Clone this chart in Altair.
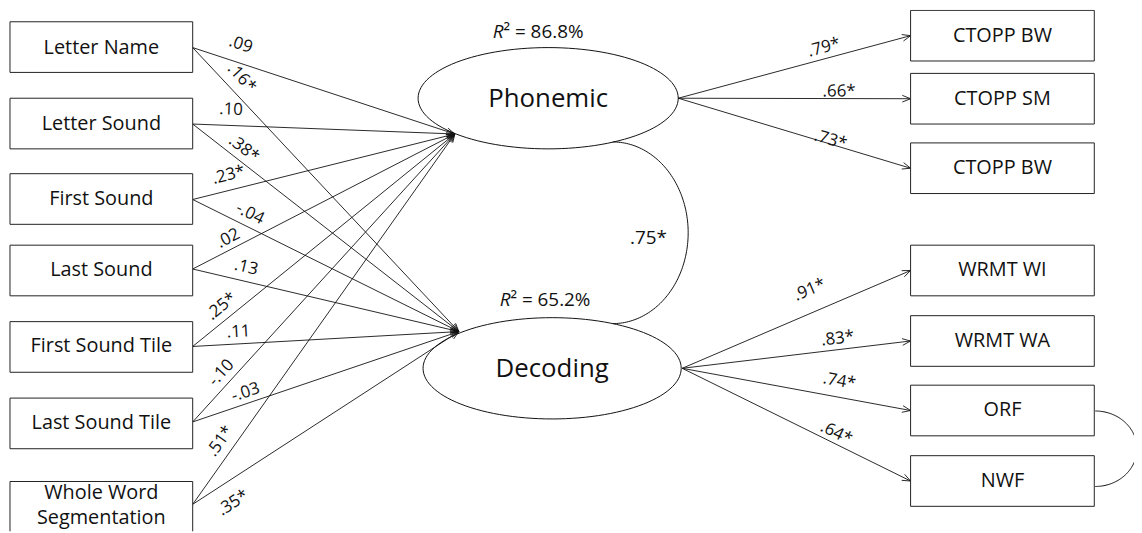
import math
import altair as alt
import pandas as pd

# ------------------------------------------------------------------ data
predictors = ["Letter Name", "Letter Sound", "First Sound", "Last Sound",
              "First Sound Tile", "Last Sound Tile", "Whole Word\nSegmentation"]
beta_phonemic = [0.09, 0.10, 0.23, 0.02, 0.25, -0.10, 0.51]
sig_phonemic = [False, False, True, False, True, False, True]
beta_decoding = [0.16, 0.38, -0.04, 0.13, 0.11, -0.03, 0.35]
sig_decoding = [True, True, False, False, False, False, True]

latents = ["Phonemic", "Decoding"]
r_squared = [86.8, 65.2]
latent_corr = 0.75
latent_corr_sig = True

phonemic_indicators = ["CTOPP BW", "CTOPP SM", "CTOPP BW"]
phonemic_loadings = [0.79, 0.66, 0.73]
decoding_indicators = ["WRMT WI", "WRMT WA", "ORF", "NWF"]
decoding_loadings = [0.91, 0.83, 0.74, 0.64]
loadings_sig = True

# ------------------------------------------------------------------ layout
FONT = "Open Sans"
LEFT_X0, LEFT_X1 = 10, 194
LEFT_TOP = [20, 97, 173, 245, 322, 399, 483]
LEFT_H = [51, 51, 51, 51, 51, 51, 70]
LEFT_ANCHOR = [46, 123, 199, 269, 347, 423, 506]
LEFT_TEXT_Y = [46, 123, 199, 270, 347, 424, 495]
RIGHT_X0, RIGHT_X1 = 917, 1102
RIGHT_TOP = [8.5, 72, 142, 245, 316, 386, 457]
BOX_H = 51
ELL = {"Phonemic": dict(cx=552, cy=97, rx=131, ry=51, tip=(458, 133), out=(683, 97), r2=(507, 30)),
       "Decoding": dict(cx=556, cy=369, rx=130, ry=51, tip=(462, 332), out=(687, 369), r2=(514, 300))}
PHON_LAB = dict(along=[45, 38, 41, 46, 48, 56, 68], off=[18, 16, 15, 11, 13, 12, 14])
DEC_LAB = dict(along=[56, 56, 58, 52, 47, 60, 35], off=[15, 12, 13, 14, 12, 11, -21])
PIND_LAB = dict(along=[155, 162, 159], off=[11, 7, 4])
DIND_LAB = dict(along=[149, 159, 158, 168], off=[22, 11, 16, 10])
HEAD_LEN, HEAD_ANG = 9, math.radians(22)


def fmt(v, sig):
    s = f"{abs(v):.2f}"[1:]
    if v < 0:
        s = "-" + s
    return s + ("*" if sig else "")


segs, labels = [], []


def arrow(p0, p1, text, along, off):
    dx, dy = p1[0] - p0[0], p1[1] - p0[1]
    L = math.hypot(dx, dy)
    ux, uy = dx / L, dy / L
    segs.append(dict(x=p0[0], y=p0[1], x2=p1[0], y2=p1[1]))
    for s in (1, -1):
        c, sn = math.cos(s * HEAD_ANG), math.sin(s * HEAD_ANG)
        rx, ry = ux * c - uy * sn, ux * sn + uy * c
        segs.append(dict(x=p1[0], y=p1[1], x2=p1[0] - HEAD_LEN * rx, y2=p1[1] - HEAD_LEN * ry))
    nx, ny = uy, -ux
    ang = math.degrees(math.atan2(dy, dx)) % 360
    labels.append(dict(x=p0[0] + along * ux + off * nx, y=p0[1] + along * uy + off * ny,
                       label=text, angle=ang))


for i in range(len(predictors)):
    src = (LEFT_X1, LEFT_ANCHOR[i])
    arrow(src, ELL["Phonemic"]["tip"], fmt(beta_phonemic[i], sig_phonemic[i]),
          PHON_LAB["along"][i], PHON_LAB["off"][i])
    arrow(src, ELL["Decoding"]["tip"], fmt(beta_decoding[i], sig_decoding[i]),
          DEC_LAB["along"][i], DEC_LAB["off"][i])

for j, v in enumerate(phonemic_loadings):
    arrow(ELL["Phonemic"]["out"], (RIGHT_X0, RIGHT_TOP[j] + BOX_H / 2), fmt(v, loadings_sig),
          PIND_LAB["along"][j], PIND_LAB["off"][j])
for j, v in enumerate(decoding_loadings):
    k = j + len(phonemic_loadings)
    arrow(ELL["Decoding"]["out"], (RIGHT_X0, RIGHT_TOP[k] + BOX_H / 2), fmt(v, loadings_sig),
          DIND_LAB["along"][j], DIND_LAB["off"][j])

# curves: latent ellipses and correlation arcs
curve_rows = []


def curve(name, cx, cy, rx, ry, t0, t1, n=120):
    for k in range(n + 1):
        t = math.radians(t0 + (t1 - t0) * k / n)
        curve_rows.append(dict(id=name, idx=k, x=cx + rx * math.cos(t), y=cy + ry * math.sin(t)))


for nm in latents:
    e = ELL[nm]
    curve(nm, e["cx"], e["cy"], e["rx"], e["ry"], 0, 360)
curve("corr_latent", 617, 232.5, 76, 91.5, -90, 90)
curve("corr_orf_nwf", 1103, 450, 42, 38, -90, 90)

boxes = []
for i, p in enumerate(predictors):
    boxes.append(dict(x=LEFT_X0, x2=LEFT_X1, y=LEFT_TOP[i], y2=LEFT_TOP[i] + LEFT_H[i],
                      tx=(LEFT_X0 + LEFT_X1) / 2, ty=LEFT_TEXT_Y[i], label=p))
for j, p in enumerate(phonemic_indicators + decoding_indicators):
    boxes.append(dict(x=RIGHT_X0, x2=RIGHT_X1, y=RIGHT_TOP[j], y2=RIGHT_TOP[j] + BOX_H,
                      tx=(RIGHT_X0 + RIGHT_X1) / 2, ty=RIGHT_TOP[j] + BOX_H / 2, label=p))

lat_df = pd.DataFrame([dict(x=ELL[n]["cx"], y=ELL[n]["cy"] + 1, label=n) for n in latents])
r2_R = pd.DataFrame([dict(x=ELL[n]["r2"][0], y=ELL[n]["r2"][1], label="R") for n in latents])
r2_rest = pd.DataFrame([dict(x=ELL[n]["r2"][0], y=ELL[n]["r2"][1], label=f"\u00b2 = {r:.1f}%")
                        for n, r in zip(latents, r_squared)])
corr_df = pd.DataFrame([dict(x=653, y=238, label=fmt(latent_corr, latent_corr_sig))])

seg_df = pd.DataFrame(segs)
lab_df = pd.DataFrame(labels)
curve_df = pd.DataFrame(curve_rows)
box_df = pd.DataFrame(boxes)

# ------------------------------------------------------------------ chart
XS = alt.Scale(domain=[8, 1142], nice=False, zero=False)
YS = alt.Scale(domain=[8, 533], nice=False, zero=False, reverse=True)


def X(f="x"):
    return alt.X(f"{f}:Q", scale=XS, axis=None)


def Y(f="y"):
    return alt.Y(f"{f}:Q", scale=YS, axis=None)


lines = alt.Chart(seg_df).mark_rule(color="#111", strokeWidth=0.9).encode(
    x=X(), y=Y(), x2="x2:Q", y2="y2:Q")

curves = alt.Chart(curve_df).mark_line(color="#111", strokeWidth=1).encode(
    x=X(), y=Y(), detail="id:N", order="idx:Q")

rects = alt.Chart(box_df).mark_rect(fill="white", stroke="#222", strokeWidth=1, clip=True).encode(
    x=X(), y=Y(), x2="x2:Q", y2="y2:Q")

box_text = alt.Chart(box_df).mark_text(font=FONT, fontSize=20, color="#111",
                                       lineBreak="\n", lineHeight=25, baseline="middle").encode(
    x=X("tx"), y=Y("ty"), text="label:N")

lat_text = alt.Chart(lat_df).mark_text(font=FONT, fontSize=26, color="#111", baseline="middle").encode(
    x=X(), y=Y(), text="label:N")

r2a = alt.Chart(r2_R).mark_text(font=FONT, fontSize=19, fontStyle="italic", color="#111",
                                align="right", baseline="middle").encode(x=X(), y=Y(), text="label:N")
r2b = alt.Chart(r2_rest).mark_text(font=FONT, fontSize=19, color="#111",
                                   align="left", baseline="middle").encode(x=X(), y=Y(), text="label:N")

coef = alt.Chart(lab_df).mark_text(font=FONT, fontSize=17, color="#111", baseline="middle").encode(
    x=X(), y=Y(), text="label:N", angle=alt.Angle("angle:Q", scale=None))

corr_text = alt.Chart(corr_df).mark_text(font=FONT, fontSize=19, color="#111", baseline="middle").encode(
    x=X(), y=Y(), text="label:N")

chart = alt.layer(lines, curves, rects, box_text, lat_text, r2a, r2b, coef, corr_text).properties(
    width=1134, height=525, autosize=alt.AutoSizeParams(type="none"), padding=0
).configure_view(strokeWidth=0)

chart.save("out.html", embed_options={"renderer": "svg", "actions": False})
